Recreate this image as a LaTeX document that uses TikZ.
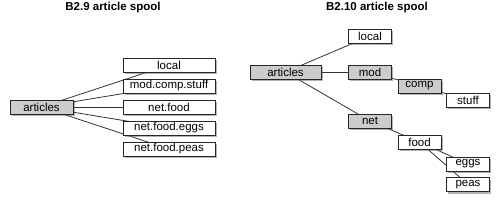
\documentclass[tikz,border=0pt]{standalone}
\usepackage{fontspec}
\setmainfont{Liberation Sans}
\usetikzlibrary{shadows,backgrounds}

\begin{document}
\begin{tikzpicture}[x=1pt, y=-1pt, line width=0.9pt,
  box/.style={draw=black!85, fill=white, minimum height=14pt, inner sep=0pt,
    font=\fontsize{11.5}{12}\selectfont,
    drop shadow={shadow xshift=1.5pt, shadow yshift=-2pt, opacity=0.5, fill=black!60}},
  grp/.style={box, fill=black!20},
  wide/.style={minimum width=92pt},
  narrow/.style={minimum width=43pt},
  link/.style={draw=black!80, line width=0.8pt},
  title/.style={font=\fontsize{11.5}{13}\selectfont\bfseries}]
\useasboundingbox (0,0) rectangle (500,206);
% --- Left Side (B2.9) ---
\node[title] (tA) at (113,8) {B2.9 article spool};
\node[grp, minimum width=63pt] (artA) at (41.5,107) {articles};
\node[box, wide] (localA) at (169,65) {local};
\node[box, wide] (mcs) at (169,86) {mod.comp.stuff};
\node[box, wide] (nf) at (169,107) {net.food};
\node[box, wide] (nfe) at (169,128) {net.food.eggs};
\node[box, wide] (nfp) at (169,149) {net.food.peas};
\begin{scope}[on background layer]
\foreach \n in {localA,mcs,nf,nfe,nfp}
  \draw[link] (artA.center) -- (\n.center);
\end{scope}
% --- Right Side (B2.10) ---
\node[title] (tB) at (377,8) {B2.10 article spool};
\node[grp, minimum width=71pt] (artB) at (285.5,72) {articles};
\node[box, narrow] (localB) at (370,36) {local};
\node[grp, narrow] (mod) at (370,72) {mod};
\node[grp, narrow] (comp) at (419.5,86) {comp};
\node[box, narrow] (stuff) at (468,100) {stuff};
\node[grp, narrow] (net) at (370,121) {net};
\node[box, narrow] (food) at (419.5,142) {food};
\node[box, narrow] (eggs) at (468,164) {eggs};
\node[box, narrow] (peas) at (468,184.5) {peas};
\begin{scope}[on background layer]
\draw[link] (artB.center) -- (localB.center);
\draw[link] (artB.center) -- (mod.center);
\draw[link] (artB.center) -- (net.center);
\draw[link] (mod.center) -- (comp.center);
\draw[link] (comp.center) -- (stuff.center);
\draw[link] (net.center) -- (food.center);
\draw[link] (food.center) -- (eggs.center);
\draw[link] (food.center) -- (peas.center);
\end{scope}
\end{tikzpicture}
\end{document}
